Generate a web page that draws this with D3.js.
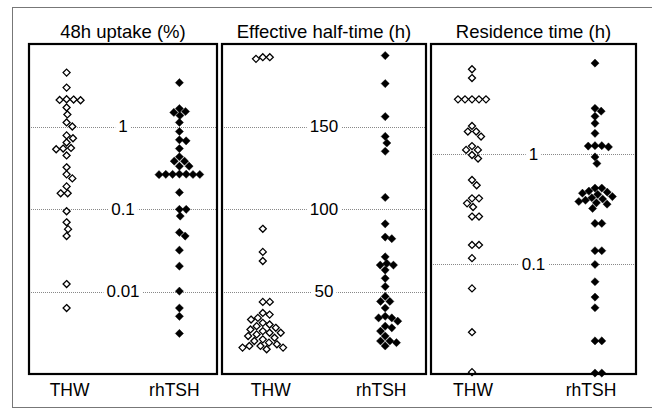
<!DOCTYPE html>
<html>
<head>
<meta charset="utf-8">
<script src="https://cdn.jsdelivr.net/npm/d3@7"></script>
<style>
  body { margin: 0; background: #fff; }
  text { font-family: "Liberation Sans", Arial, sans-serif; fill: #000; }
</style>
</head>
<body>
<div id="chart"></div>
<script>
// groups shown in every panel
const groups = ["THW", "rhTSH"];

// 48h uptake (%), log scale
const uptakeTHW = [4.5, 2.96, 2.12, 2.1, 2.14, 2.08, 1.7, 1.4, 1.12, 1.0, 0.78, 0.72, 0.64,
  0.55, 0.54, 0.53, 0.446, 0.32, 0.263, 0.235, 0.188, 0.155, 0.155, 0.094, 0.069, 0.057,
  0.047, 0.0123, 0.0063];
const uptakeRhTSH = [3.4, 1.65, 1.52, 1.48, 1.36, 1.12, 0.87, 0.69, 0.67, 0.54, 0.43, 0.38,
  0.38, 0.33, 0.33, 0.265, 0.264, 0.263, 0.263, 0.262, 0.262, 0.261, 0.159, 0.099, 0.099,
  0.082, 0.052, 0.047, 0.0317, 0.0203, 0.0101, 0.0063, 0.005, 0.0031];
const uptakeTicks = [0.01, 0.1, 1];

// Effective half-time (h), linear
const halfTHW = [192, 191, 192, 88, 74, 68.5, 43.7, 43.7, 37, 36, 34, 33, 31, 30, 29, 28,
  27, 26, 25, 25, 24, 23, 22, 21, 20, 19, 18, 17, 17, 16, 16, 15];
const halfRhTSH = [193, 176, 156, 144, 140, 135, 107, 91, 83, 82, 71, 67, 66, 66, 63, 58,
  53, 47, 44, 44, 40, 35, 34, 34, 32, 29, 28, 26, 23, 20, 20, 19, 17];
const halfTicks = [50, 100, 150];

// Residence time (h), log scale
const resTHW = [5.9, 4.9, 3.14, 3.14, 3.14, 3.14, 3.14, 1.8, 1.6, 1.6, 1.44, 1.18, 1.09,
  1.09, 0.98, 0.91, 0.58, 0.52, 0.395, 0.395, 0.356, 0.33, 0.27, 0.27, 0.149, 0.149, 0.113,
  0.06, 0.024, 0.0104];
const resRhTSH = [6.7, 2.6, 2.45, 2.2, 1.9, 1.54, 1.19, 1.19, 1.18, 1.16, 0.94, 0.82, 0.49,
  0.49, 0.46, 0.45, 0.44, 0.43, 0.41, 0.40, 0.39, 0.38, 0.37, 0.36, 0.35, 0.32,
  0.234, 0.234, 0.132, 0.132, 0.099, 0.069, 0.05, 0.04, 0.02, 0.02, 0.0102, 0.0102];
const resTicks = [0.1, 1];

const W = 652, H = 413;
const yTop = 44, yBottom = 374;

const panels = [
  { title: "48h uptake (%)", x0: 29, x1: 217, y: d3.scaleLog().domain([0.001, 10]),
    ticks: uptakeTicks, fmt: d => String(d), data: [uptakeTHW, uptakeRhTSH], lab: [3, -5] },
  { title: "Effective half-time (h)", x0: 222, x1: 426, y: d3.scaleLinear().domain([0, 200]),
    ticks: halfTicks, fmt: d => String(d), data: [halfTHW, halfRhTSH], lab: [8, -4] },
  { title: "Residence time (h)", x0: 431, x1: 636, y: d3.scaleLog().domain([0.01, 10]),
    ticks: resTicks, fmt: d => String(d), data: [resTHW, resRhTSH], lab: [1, -4] }
];

const svg = d3.select("#chart").append("svg")
  .attr("width", W).attr("height", H);

svg.append("rect")
  .attr("x", 12.5).attr("y", 7.5)
  .attr("width", 650).attr("height", 400)
  .attr("fill", "none").attr("stroke", "#777").attr("stroke-width", 1);

const diamond = r => `M0,${-r}L${r},0L0,${r}L${-r},0Z`;

// greedy beeswarm: offset each point as close to the centre as it can go
function swarm(values, y, d) {
  const pts = values.map(v => ({ v: v, y: y(v), x: 0 })).sort((a, b) => a.y - b.y);
  const placed = [];
  pts.forEach(p => {
    const near = placed.filter(q => Math.abs(q.y - p.y) < d);
    const cands = [0];
    near.forEach(q => {
      const dx = Math.sqrt(d * d - (q.y - p.y) ** 2);
      cands.push(q.x + dx, q.x - dx);
    });
    cands.sort((a, b) => Math.abs(a) - Math.abs(b) || b - a);
    p.x = cands.find(c => near.every(q => Math.hypot(q.x - c, q.y - p.y) >= d - 1e-6));
    placed.push(p);
  });
  return placed;
}

panels.forEach(p => {
  p.y.range([yBottom, yTop]);
  const x = d3.scalePoint().domain(groups).range([p.x0, p.x1]).padding(1 / 3);
  const g = svg.append("g");
  const cx = (p.x0 + p.x1) / 2;

  g.append("text")
    .attr("x", cx).attr("y", 38)
    .attr("text-anchor", "middle")
    .style("font-size", "18.5px")
    .text(p.title);

  // reference lines with their labels
  p.ticks.forEach(t => {
    g.append("line")
      .attr("x1", p.x0).attr("x2", p.x1)
      .attr("y1", Math.round(p.y(t)) + 0.5).attr("y2", Math.round(p.y(t)) + 0.5)
      .attr("stroke", "#888").attr("stroke-width", 1)
      .attr("stroke-dasharray", "1,1");
    const bg = g.append("rect").attr("fill", "#fff");
    const lbl = g.append("text")
      .attr("x", cx).attr("y", p.y(t))
      .attr("text-anchor", "middle")
      .attr("dominant-baseline", "central")
      .style("font-size", "17px")
      .text(p.fmt(t));
    const bb = lbl.node().getBBox();
    bg.attr("x", bb.x - 3).attr("y", p.y(t) - 3)
      .attr("width", bb.width + 6).attr("height", 6);
  });

  groups.forEach((grp, i) => {
    const open = i === 0;
    const pts = swarm(p.data[i], p.y, open ? 7 : 6.8);
    g.selectAll(null)
      .data(pts)
      .enter()
      .append("path")
      .attr("transform", d => `translate(${x(grp) + d.x},${d.y})`)
      .attr("d", diamond(open ? 3.5 : 4.1))
      .attr("fill", open ? "#fff" : "#000")
      .attr("stroke", "#000")
      .attr("stroke-width", open ? 1.3 : 0.4);

    g.append("text")
      .attr("x", x(grp) + p.lab[i]).attr("y", 396)
      .attr("text-anchor", "middle")
      .style("font-size", "17.5px")
      .text(grp);
  });

  g.append("rect")
    .attr("x", p.x0).attr("y", yTop)
    .attr("width", p.x1 - p.x0).attr("height", yBottom - yTop)
    .attr("fill", "none").attr("stroke", "#000").attr("stroke-width", 2.2);
});
</script>
</body>
</html>
